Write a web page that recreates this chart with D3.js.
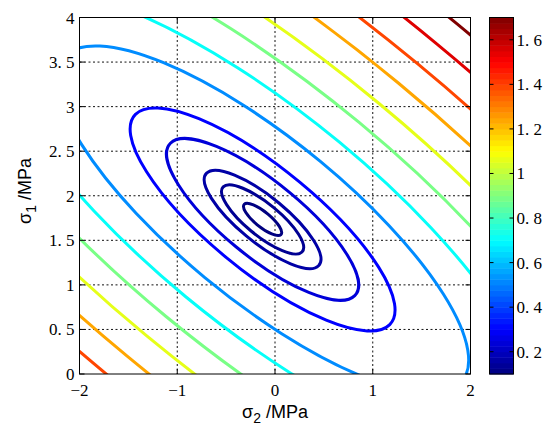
<!DOCTYPE html>
<html>
<head>
<meta charset="utf-8">
<script src="https://cdn.jsdelivr.net/npm/d3@7"></script>
<style>
  html, body { margin: 0; padding: 0; background: #fff; }
  svg { display: block; }
  .tick-label { font-family: "Liberation Serif", "DejaVu Serif", serif; font-size: 17px; fill: #000; }
  .axis-title { font-family: "Liberation Sans", Arial, sans-serif; font-size: 18px; fill: #000; }
</style>
</head>
<body>
<div id="chart"></div>
<script>
// contour levels
var levels = [0.10, 0.13, 0.16, 0.24, 0.30, 0.52, 0.71, 0.89, 1.06, 1.24, 1.39, 1.55, 1.70];
// semi-major axis of each contour ellipse, in data units (sigma)
var semiMajor = [0.253, 0.544, 0.773, 1.273, 1.756, 2.732, 3.635, 4.566, 5.479, 6.420, 7.326, 8.250, 9.198];
// common shape of the concentric ellipses
var centerS2 = -0.127, centerS1 = 1.734;
var axisRatio = 0.322;       // minor / major
var axisAngle = -42.2;       // degrees, in data space

var xTicks = [-2, -1, 0, 1, 2];
var yTicks = [0, 0.5, 1, 1.5, 2, 2.5, 3, 3.5, 4];
var cbTicks = [0.2, 0.4, 0.6, 0.8, 1, 1.2, 1.4, 1.6];
var cbDomain = [0.1, 1.7];

var W = 550, H = 427;
var plot = {left: 79.5, right: 470.5, top: 17.5, bottom: 374};
var cb = {left: 489.5, right: 513.5};

var svg = d3.select("#chart").append("svg")
  .attr("width", W).attr("height", H);
svg.append("rect").attr("width", W).attr("height", H).attr("fill", "#fff");

var x = d3.scaleLinear().domain([-2, 2]).range([plot.left, plot.right]);
var y = d3.scaleLinear().domain([0, 4]).range([plot.bottom, plot.top]);
var c = d3.scaleLinear().domain(cbDomain).range([plot.bottom, plot.top]);

// matlab jet
function jet(t) {
  t = Math.max(0, Math.min(1, t));
  function cl(v) { return Math.round(255 * Math.max(0, Math.min(1, v))); }
  var r = Math.min(4 * t - 1.5, -4 * t + 4.5);
  var g = Math.min(4 * t - 0.5, -4 * t + 3.5);
  var b = Math.min(4 * t + 0.5, -4 * t + 2.5);
  return "rgb(" + cl(r) + "," + cl(g) + "," + cl(b) + ")";
}
function levelColor(v) { return jet((v - cbDomain[0]) / (cbDomain[1] - cbDomain[0])); }

// grid (dotted)
var grid = svg.append("g");
grid.selectAll(".gx").data(xTicks.slice(1, -1)).enter().append("line")
  .attr("x1", d => x(d)).attr("x2", d => x(d))
  .attr("y1", plot.top).attr("y2", plot.bottom)
  .attr("stroke", "#111").attr("stroke-width", 1).attr("stroke-dasharray", "2,2.5");
grid.selectAll(".gy").data(yTicks.slice(1, -1)).enter().append("line")
  .attr("y1", d => y(d)).attr("y2", d => y(d))
  .attr("x1", plot.left).attr("x2", plot.right)
  .attr("stroke", "#111").attr("stroke-width", 1).attr("stroke-dasharray", "2,2.5");

// contours
svg.append("defs").append("clipPath").attr("id", "plotclip")
  .append("rect")
  .attr("x", plot.left).attr("y", plot.top)
  .attr("width", plot.right - plot.left).attr("height", plot.bottom - plot.top);

var kx = x(1) - x(0), ky = y(0) - y(1);
var cont = svg.append("g").attr("clip-path", "url(#plotclip)")
  .append("g")
  .attr("transform", "translate(" + x(0) + "," + y(0) + ") scale(" + kx + "," + (-ky) + ")");

cont.selectAll("ellipse").data(levels).enter().append("ellipse")
  .attr("transform", "translate(" + centerS2 + "," + centerS1 + ") rotate(" + axisAngle + ")")
  .attr("cx", 0).attr("cy", 0)
  .attr("rx", (d, i) => semiMajor[i])
  .attr("ry", (d, i) => semiMajor[i] * axisRatio)
  .attr("fill", "none")
  .attr("stroke", d => levelColor(d))
  .attr("stroke-width", 3)
  .attr("vector-effect", "non-scaling-stroke");

// axes box + inward ticks
var ax = svg.append("g");
ax.append("rect")
  .attr("x", plot.left).attr("y", plot.top)
  .attr("width", plot.right - plot.left).attr("height", plot.bottom - plot.top)
  .attr("fill", "none").attr("stroke", "#000").attr("stroke-width", 1);

var tl = 5;
xTicks.forEach(function(d) {
  ax.append("line").attr("x1", x(d)).attr("x2", x(d)).attr("y1", plot.bottom).attr("y2", plot.bottom - tl).attr("stroke", "#000");
  ax.append("line").attr("x1", x(d)).attr("x2", x(d)).attr("y1", plot.top).attr("y2", plot.top + tl).attr("stroke", "#000");
});
yTicks.forEach(function(d) {
  ax.append("line").attr("y1", y(d)).attr("y2", y(d)).attr("x1", plot.left).attr("x2", plot.left + tl).attr("stroke", "#000");
  ax.append("line").attr("y1", y(d)).attr("y2", y(d)).attr("x1", plot.right).attr("x2", plot.right - tl).attr("stroke", "#000");
});

function fmt(d) {
  return String(d).replace("-", "\u2212").replace(".", ". ");
}

ax.selectAll(".xl").data(xTicks).enter().append("text")
  .attr("class", "tick-label")
  .attr("x", d => x(d)).attr("y", 396)
  .attr("text-anchor", "middle")
  .text(fmt);

ax.selectAll(".yl").data(yTicks).enter().append("text")
  .attr("class", "tick-label")
  .attr("x", plot.left - 5).attr("y", d => y(d) + 6)
  .attr("text-anchor", "end")
  .text(fmt);

// axis titles
var xt = svg.append("text").attr("class", "axis-title")
  .attr("x", (plot.left + plot.right) / 2).attr("y", 418)
  .attr("text-anchor", "middle");
xt.append("tspan").text("\u03c3");
xt.append("tspan").attr("dy", 5).attr("font-size", "14px").text("2");
xt.append("tspan").attr("dy", -5).text(" /MPa");

var yt = svg.append("text").attr("class", "axis-title")
  .attr("transform", "translate(31," + 191 + ") rotate(-90)")
  .attr("text-anchor", "middle");
yt.append("tspan").text("\u03c3");
yt.append("tspan").attr("dy", 5).attr("font-size", "14px").text("1");
yt.append("tspan").attr("dy", -5).text(" /MPa");

// colorbar
var nColors = 64;
var cbSteps = d3.range(nColors);
var step = (cbDomain[1] - cbDomain[0]) / nColors;
var cbg = svg.append("g");
cbg.selectAll("rect").data(cbSteps).enter().append("rect")
  .attr("x", cb.left)
  .attr("width", cb.right - cb.left)
  .attr("y", d => c(cbDomain[0] + (d + 1) * step))
  .attr("height", d => c(cbDomain[0] + d * step) - c(cbDomain[0] + (d + 1) * step) + 0.5)
  .attr("fill", d => jet((d + 0.5) / nColors));
cbg.append("rect")
  .attr("x", cb.left).attr("y", plot.top)
  .attr("width", cb.right - cb.left).attr("height", plot.bottom - plot.top)
  .attr("fill", "none").attr("stroke", "#000");
cbTicks.forEach(function(d) {
  cbg.append("line").attr("x1", cb.left).attr("x2", cb.left + 4).attr("y1", c(d)).attr("y2", c(d)).attr("stroke", "#000");
  cbg.append("line").attr("x1", cb.right).attr("x2", cb.right - 4).attr("y1", c(d)).attr("y2", c(d)).attr("stroke", "#000");
});
cbg.selectAll(".cl").data(cbTicks).enter().append("text")
  .attr("class", "tick-label")
  .attr("x", cb.right + 3).attr("y", d => c(d) + 6)
  .text(fmt);
</script>
</body>
</html>
